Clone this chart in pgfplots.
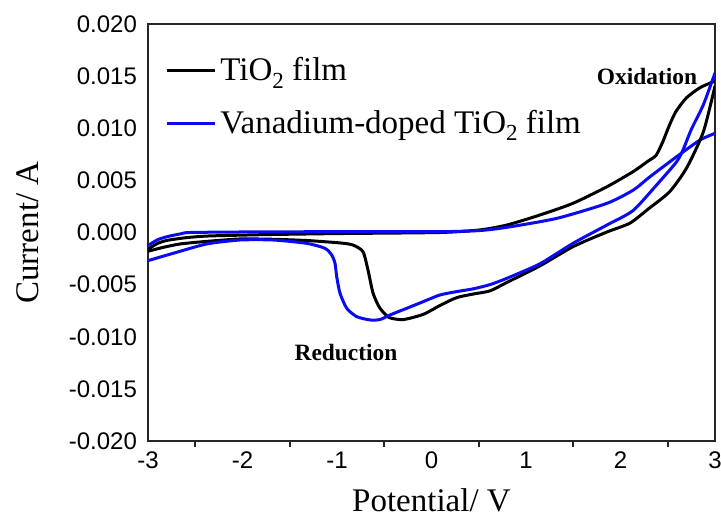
\documentclass[border=0pt]{standalone}
\usepackage{fontspec}
\setmainfont{Liberation Serif}
\setsansfont{Liberation Sans}
\usepackage{pgfplots}
\pgfplotsset{compat=1.18}
\definecolor{cvblue}{RGB}{10,10,245}
\newcommand{\subtwo}{\raisebox{-0.5ex}{\fontsize{11.5}{13}\selectfont 2}}
\begin{document}
\begin{tikzpicture}
\begin{axis}[
  at={(0,0)}, anchor=south west,
  scale only axis, width=283.5pt, height=208.5pt,
  xmin=-3, xmax=3, ymin=-0.020, ymax=0.020,
  axis line style={line width=0.8pt, draw=black!85},
  xtick={-3,-2,-1,0,1,2,3},
  xticklabels={-3,-2,-1,0,1,2,3},
  minor xtick={-2.5,-1.5,-0.5,0.5,1.5,2.5},
  ytick={-0.020,-0.015,-0.010,-0.005,0,0.005,0.010,0.015,0.020},
  yticklabels={-0.020,-0.015,-0.010,-0.005,0.000,0.005,0.010,0.015,0.020},
  scaled y ticks=false,
  major tick length=0pt,
  minor tick length=3pt,
  tick align=outside,
  xtick pos=bottom, ytick pos=left,
  every tick/.style={line width=0.8pt, black!85},
  ticklabel style={font=\sffamily\fontsize{12}{14}\selectfont},
  xticklabel style={yshift=-2pt},
  yticklabel style={xshift=-2pt},
  xlabel={Potential/ V}, ylabel={Current/ A},
  label style={font=\fontsize{16.5}{20}\selectfont},
  x label style={at={(axis description cs:0.5,-0.142)}, anchor=center},
  y label style={at={(axis description cs:-0.212,0.5)}, anchor=center},
  legend style={at={(rel axis cs:0.03,0.925)}, anchor=north west, draw=none, fill=none,
    font=\fontsize{16.5}{20}\selectfont, row sep=11pt, inner sep=0pt,
    nodes={inner xsep=2pt, inner ysep=1pt}},
  legend cell align=left,
  legend image code/.code={\draw[#1] (0pt,0pt) -- (24pt,0pt);},
]
% black, forward sweep
\addplot[black, line width=1.5pt, smooth, tension=0.4] coordinates {
(-3.000,-0.00170) (-2.979,-0.00149) (-2.90,-0.00105) (-2.80,-0.00076) (-2.60,-0.00050)
(-2.376,-0.00034) (-2.0,-0.00025) (-1.677,-0.00019) (-0.968,-0.00010) (0.090,0.00000)
(0.513,0.00025) (0.799,0.00072) (1.148,0.00168) (1.497,0.00280) (1.857,0.00439)
(2.132,0.00583) (2.30,0.00690) (2.376,0.00739) (2.447,0.00869) (2.519,0.01032)
(2.587,0.01161) (2.697,0.01291) (2.841,0.01389) (2.985,0.01448) (3.000,0.01455)
};
\addlegendentry{TiO\subtwo{} film}
% blue, forward sweep
\addplot[cvblue, line width=1.5pt, smooth, tension=0.4] coordinates {
(-3.000,-0.00125) (-2.90,-0.00070) (-2.799,-0.00040) (-2.65,-0.00012) (-2.556,0.00000)
(-2.0,0.00005) (-1.0,0.00008) (0.090,0.00008) (0.513,0.00019) (0.799,0.00050)
(1.328,0.00136) (1.857,0.00280) (2.135,0.00407) (2.312,0.00535) (2.594,0.00727)
(2.841,0.00887) (3.000,0.00951)
};
\addlegendentry{Vanadium-doped TiO\subtwo{} film}
% black, reverse sweep
\addplot[black, line width=1.5pt, smooth, tension=0.4, forget plot] coordinates {
(3.000,0.01405) (2.877,0.00966) (2.70,0.00620) (2.519,0.00390) (2.30,0.00230)
(2.10,0.00090) (1.857,0.00005) (1.497,-0.00136) (1.148,-0.00320) (0.796,-0.00480)
(0.619,-0.00560) (0.443,-0.00590) (0.266,-0.00625) (0.090,-0.00700) (-0.087,-0.00785)
(-0.298,-0.00835) (-0.45,-0.00815) (-0.55,-0.00720) (-0.619,-0.00580) (-0.672,-0.00360)
(-0.725,-0.00184) (-0.831,-0.00120) (-0.968,-0.00100) (-1.317,-0.00077) (-1.677,-0.00065)
(-2.026,-0.00062) (-2.376,-0.00085) (-2.661,-0.00110) (-2.85,-0.00145) (-3.000,-0.00180)
};
% blue, reverse sweep
\addplot[cvblue, line width=1.5pt, smooth, tension=0.4, forget plot] coordinates {
(3.000,0.01530) (2.877,0.01226) (2.75,0.00990) (2.661,0.00791) (2.590,0.00674)
(2.386,0.00460) (2.132,0.00210) (1.857,0.00072) (1.497,-0.00104) (1.148,-0.00300)
(0.796,-0.00440) (0.619,-0.00500) (0.443,-0.00540) (0.266,-0.00567) (0.090,-0.00599)
(-0.087,-0.00663) (-0.262,-0.00727) (-0.439,-0.00791) (-0.545,-0.00835) (-0.651,-0.00839)
(-0.792,-0.00807) (-0.897,-0.00727) (-0.968,-0.00583) (-1.003,-0.00424) (-1.021,-0.00295)
(-1.056,-0.00216) (-1.127,-0.00152) (-1.321,-0.00104) (-1.674,-0.00072) (-2.026,-0.00072)
(-2.379,-0.00110) (-2.732,-0.00199) (-3.000,-0.00270)
};
\node[font=\bfseries\fontsize{11.7}{14}\selectfont] at (axis cs:2.28,0.0150) {Oxidation};
\node[font=\bfseries\fontsize{11.7}{14}\selectfont] at (axis cs:-0.905,-0.01155) {Reduction};
\end{axis}
\pgfresetboundingbox
\path (-74pt,-38.5pt) rectangle (286.5pt,220.5pt);
\end{tikzpicture}
\end{document}
